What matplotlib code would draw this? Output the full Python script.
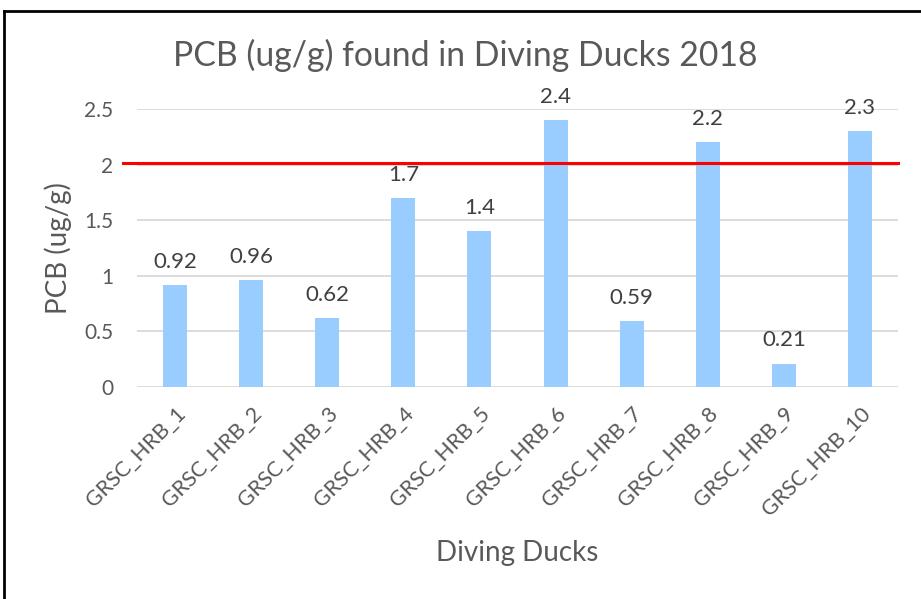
import matplotlib
matplotlib.use("Agg")
import matplotlib.pyplot as plt
from matplotlib.lines import Line2D

categories = ["GRSC_HRB_1", "GRSC_HRB_2", "GRSC_HRB_3", "GRSC_HRB_4", "GRSC_HRB_5",
              "GRSC_HRB_6", "GRSC_HRB_7", "GRSC_HRB_8", "GRSC_HRB_9", "GRSC_HRB_10"]
values = [0.92, 0.96, 0.62, 1.7, 1.4, 2.4, 0.59, 2.2, 0.21, 2.3]
value_labels = ["0.92", "0.96", "0.62", "1.7", "1.4", "2.4", "0.59", "2.2", "0.21", "2.3"]
yticks = [0, 0.5, 1, 1.5, 2, 2.5]
ytick_labels = ["0", "0.5", "1", "1.5", "2", "2.5"]
threshold = 2.015

plt.rcParams['font.family'] = ['Lato', 'DejaVu Sans']
gray = "#595959"

fig = plt.figure(figsize=(9.21, 5.99), dpi=100)
ax = fig.add_axes([137/921, 212/599, 761/921, 278/599])

x = list(range(len(categories)))
ax.bar(x, values, width=0.315, color="#99CCFF", zorder=3)
ax.set_xlim(-0.5, len(categories) - 0.5)
ax.set_ylim(0, 2.5)
ax.set_yticks(yticks)
ax.set_yticklabels(ytick_labels, fontsize=15, color=gray)
ax.set_xticks(x)
ax.set_xticklabels(categories, rotation=45, ha="right", va="top",
                   rotation_mode="anchor", fontsize=15.5, color=gray)
ax.tick_params(axis="both", length=0)
ax.tick_params(axis="y", pad=17)
ax.tick_params(axis="x", pad=12)
ax.grid(axis="y", color="#D9D9D9", linewidth=1.3, zorder=0)
for s in ax.spines.values():
    s.set_visible(False)

for xi, v, lab in zip(x, values, value_labels):
    ax.annotate(lab, (xi, v), xytext=(0, 9.5), textcoords="offset points",
                ha="center", va="bottom", fontsize=16, color="#404040")

ax.axhline(threshold, xmin=-14/761, xmax=1, color="#FF0000", linewidth=2.2,
           zorder=4, clip_on=False)

ax.set_xlabel("Diving Ducks", fontsize=20, color=gray, va="center")
ax.xaxis.set_label_coords(0.5, (387 - 553) / 278)
ax.set_ylabel("PCB (ug/g)", fontsize=20, color=gray, va="center")
ax.yaxis.set_label_coords((58 - 137) / 761, 0.5)
fig.text(0.505, 0.908, "PCB (ug/g) found in Diving Ducks 2018", ha="center",
         va="center", fontsize=24.3, color=gray)

fig.add_artist(Line2D([3.5/921, 1], [1 - 10.5/599, 1 - 10.5/599], color="black",
                      linewidth=2, transform=fig.transFigure))
fig.add_artist(Line2D([3.5/921, 3.5/921], [0, 1 - 10.5/599], color="black",
                      linewidth=2, transform=fig.transFigure))

fig.savefig("out.png", dpi=100)
